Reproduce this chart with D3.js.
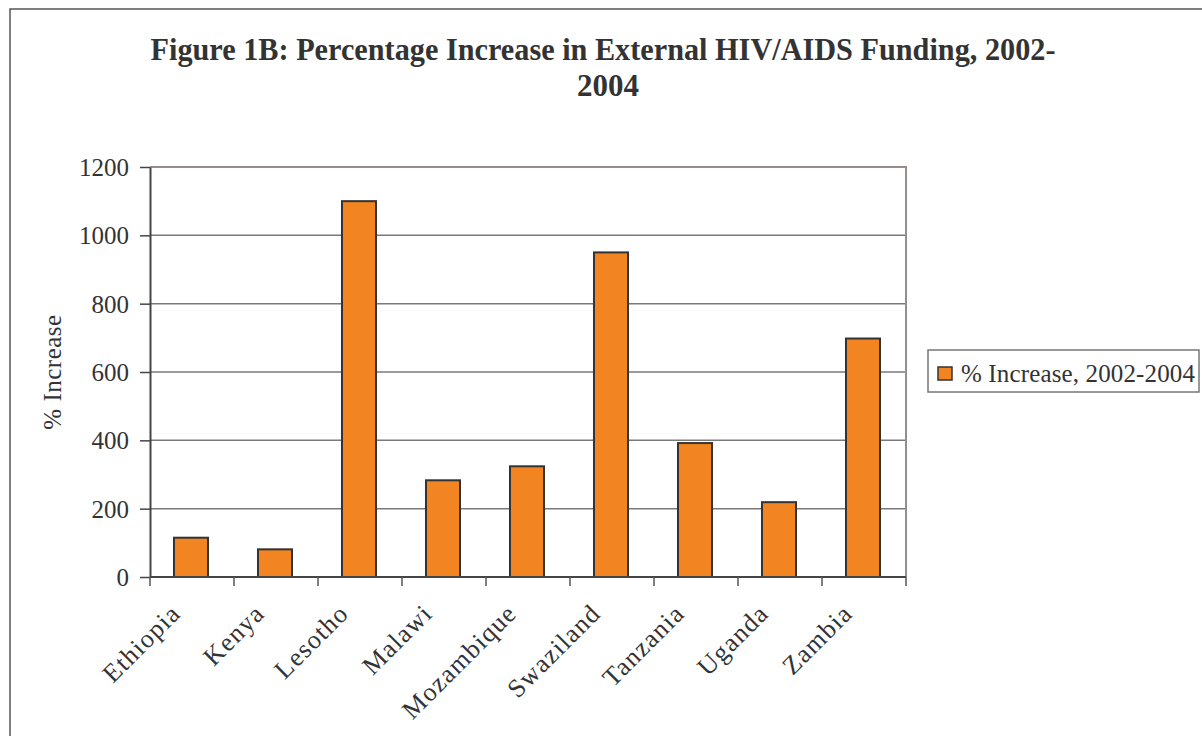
<!DOCTYPE html>
<html>
<head>
<meta charset="utf-8">
<script src="https://cdn.jsdelivr.net/npm/d3@7"></script>
<style>
  body { margin: 0; background: #fff; }
  svg text { font-family: "Liberation Serif", "Times New Roman", serif; fill: #333; }
</style>
</head>
<body>
<svg width="1202" height="736"></svg>
<script>
const countries = ["Ethiopia", "Kenya", "Lesotho", "Malawi", "Mozambique", "Swaziland", "Tanzania", "Uganda", "Zambia"];
const increase = [115, 81, 1100, 283, 324, 950, 392, 219, 698];
const yTicks = [0, 200, 400, 600, 800, 1000, 1200];
const seriesName = "% Increase, 2002-2004";

const plotLeft = 150, plotRight = 906, plotTop = 167, plotBottom = 577;

let svg = d3.select("svg");

// outer frame (runs off the right and bottom edges)
svg.append("rect")
  .attr("x", 10).attr("y", 9)
  .attr("width", 1300).attr("height", 900)
  .attr("fill", "#fff")
  .attr("stroke", "#555")
  .attr("stroke-width", 1.5);

// TITLE
svg.append("text")
  .attr("x", 603).attr("y", 60)
  .attr("text-anchor", "middle")
  .attr("font-size", 31)
  .attr("font-weight", "bold")
  .attr("textLength", 905)
  .attr("lengthAdjust", "spacingAndGlyphs")
  .text("Figure 1B: Percentage Increase in External HIV/AIDS Funding, 2002-");
svg.append("text")
  .attr("x", 608).attr("y", 96)
  .attr("text-anchor", "middle")
  .attr("font-size", 31)
  .attr("font-weight", "bold")
  .text("2004");

// SCALES
var xScale = d3.scaleBand()
  .domain(countries)
  .range([plotLeft, plotRight])
  .paddingInner(0.595)
  .paddingOuter(0.2975);

var yScale = d3.scaleLinear()
  .domain([0, 1200])
  .range([plotBottom, plotTop]);

// GRID
svg.append("g")
  .selectAll("line")
  .data(yTicks.filter((d) => d > 0 && d < 1200))
  .enter()
  .append("line")
  .attr("x1", plotLeft).attr("x2", plotRight)
  .attr("y1", (d) => yScale(d)).attr("y2", (d) => yScale(d))
  .attr("stroke", "#7a7a7a")
  .attr("stroke-width", 1.5);

// plot border top / right
svg.append("path")
  .attr("d", "M" + plotLeft + "," + yScale(1200) + "H" + plotRight + "V" + yScale(0))
  .attr("fill", "none")
  .attr("stroke", "#9a8c8c")
  .attr("stroke-width", 2);

// BARS
svg.selectAll(".bar")
  .data(increase)
  .enter()
  .append("rect")
  .attr("class", "bar")
  .attr("x", (d, i) => xScale(countries[i]) - 1)
  .attr("y", (d) => yScale(d))
  .attr("width", xScale.bandwidth())
  .attr("height", (d) => yScale(0) - yScale(d))
  .attr("fill", "#f28522")
  .attr("stroke", "#333")
  .attr("stroke-width", 2);

// Y AXIS
let yAxis = d3.axisLeft(yScale)
  .tickValues(yTicks)
  .tickFormat(d3.format("d"))
  .tickSize(10)
  .tickPadding(11)
  .tickSizeOuter(0);
let gy = svg.append("g")
  .attr("transform", "translate(" + plotLeft + ",0)")
  .call(yAxis);
gy.select(".domain").attr("stroke", "#444").attr("stroke-width", 2);
gy.selectAll(".tick line").attr("stroke", "#444").attr("stroke-width", 1.5);
gy.selectAll(".tick text")
  .attr("font-size", 25)
  .attr("font-family", "Liberation Serif")
  .attr("fill", "#333")
  .attr("dy", "0.34em");

// X AXIS (ticks sit between categories)
let step = xScale.step();
let bounds = d3.range(countries.length + 1).map((i) => plotLeft + i * step);
svg.append("line")
  .attr("x1", plotLeft).attr("x2", plotRight)
  .attr("y1", yScale(0)).attr("y2", yScale(0))
  .attr("stroke", "#444").attr("stroke-width", 2);
svg.append("g")
  .selectAll("line")
  .data(bounds)
  .enter()
  .append("line")
  .attr("x1", (d) => d).attr("x2", (d) => d)
  .attr("y1", yScale(0)).attr("y2", yScale(0) + 9)
  .attr("stroke", "#555").attr("stroke-width", 1.5);

svg.append("g")
  .selectAll("text")
  .data(countries)
  .enter()
  .append("text")
  .attr("transform", (d) => "translate(" + (xScale(d) + xScale.bandwidth() / 2 - 10) + "," + 615 + ") rotate(-45)")
  .attr("text-anchor", "end")
  .attr("font-size", 26)
  .attr("letter-spacing", 1.2)
  .text((d) => d);

// Y LABEL
svg.append("text")
  .attr("transform", "translate(61,372) rotate(-90)")
  .attr("text-anchor", "middle")
  .attr("font-size", 25)
  .attr("letter-spacing", 0.5)
  .text("% Increase");

// LEGEND
let legend = svg.append("g");
legend.append("rect")
  .attr("x", 928).attr("y", 350)
  .attr("width", 271).attr("height", 42)
  .attr("fill", "#fff")
  .attr("stroke", "#777")
  .attr("stroke-width", 1.5);
legend.append("rect")
  .attr("x", 938).attr("y", 367)
  .attr("width", 14).attr("height", 13)
  .attr("fill", "#f28522")
  .attr("stroke", "#333")
  .attr("stroke-width", 1.5);
legend.append("text")
  .attr("x", 961).attr("y", 382)
  .attr("font-size", 25)
  .attr("textLength", 234)
  .attr("lengthAdjust", "spacing")
  .text(seriesName);
</script>
</body>
</html>
